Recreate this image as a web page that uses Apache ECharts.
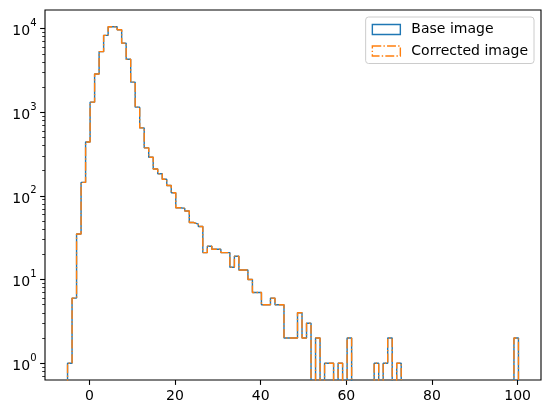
<!DOCTYPE html>
<html>
<head>
<meta charset="utf-8">
<script src="https://cdn.jsdelivr.net/npm/echarts@6/dist/echarts.min.js"></script>
<style>
  html, body { margin: 0; padding: 0; background: #fff; }
  #main { width: 550px; height: 413px; }
</style>
</head>
<body>
<div id="main"></div>
<script>
// histogram: 100 equal bins
var binStart = -5.1
var binWidth = 1.053

// counts per bin
var baseCounts = [
  1, 6, 35, 145, 440, 1320, 2860, 5300, 8300, 10500,
  10500, 9700, 6700, 4300, 2290, 1150, 650, 375, 290, 210,
  184, 158, 133, 109, 72, 71, 66, 48, 46, 43,
  21, 25, 23, 23, 21, 21, 14, 19, 13, 13,
  10, 7, 7, 5, 5, 6, 5, 5, 2, 2,
  2, 4, 2, 3, 0, 2, 0, 1, 1, 0,
  1, 0, 2, 0, 0, 0, 0, 0, 1, 0,
  1, 2, 0, 1, 0, 0, 0, 0, 0, 0,
  0, 0, 0, 0, 0, 0, 0, 0, 0, 0,
  0, 0, 0, 0, 0, 0, 0, 0, 0, 2
]
// the corrected histogram lies exactly on top of the base one
var correctedCounts = baseCounts.slice()

var xTicks = [0, 20, 40, 60, 80, 100]
var yTicks = [1, 10, 100, 1000, 10000]
var yMinorTicks = [0.7, 0.8, 0.9]
for (var d = 1; d <= 1000; d *= 10) {
  for (var k = 2; k <= 9; k++) yMinorTicks.push(k * d)
}

var font = 'DejaVu Sans'
var dashDot = [8.9, 2.2, 1.4, 2.2]

// outline of a step histogram (zero bins drop below the axis and get clipped)
function stepLine(counts) {
  var floor = 0.1
  var pts = [[binStart, floor]]
  for (var i = 0; i < counts.length; i++) {
    var y = counts[i] > 0 ? counts[i] : floor
    pts.push([binStart + i * binWidth, y])
    pts.push([binStart + (i + 1) * binWidth, y])
  }
  pts.push([binStart + counts.length * binWidth, floor])
  return pts
}

// matplotlib style 5% margins
var xEnd = binStart + baseCounts.length * binWidth
var xPad = (xEnd - binStart) * 0.05
var logMax = Math.log10(Math.max.apply(null, baseCounts))
var yMin = Math.pow(10, -0.05 * logMax)
var yMax = Math.pow(10, logMax * 1.05)

var gridLeft = 45, gridRight = 9
var gridWidth = 550 - gridLeft - gridRight

var myChart = echarts.init(document.getElementById('main'))

var option = {
  animation: false,
  grid: {
    left: gridLeft, right: gridRight, top: 10, bottom: 33,
    show: true, borderColor: '#000', borderWidth: 1.1
  },
  legend: {
    orient: 'vertical',
    right: 16, top: 17,
    itemWidth: 28, itemHeight: 10, itemGap: 7.5,
    padding: [5.5, 6, 5.5, 6],
    backgroundColor: 'rgba(255,255,255,0.8)',
    borderColor: '#cccccc', borderWidth: 1, borderRadius: 3,
    textStyle: { fontSize: 14, color: '#000', fontFamily: font, padding: [0, 0, 0, 6] },
    data: [
      { name: 'Base image', icon: 'rect',
        itemStyle: { color: 'transparent', borderColor: '#1f77b4', borderWidth: 1.4 } },
      { name: 'Corrected image', icon: 'rect',
        itemStyle: { color: 'transparent', borderColor: '#ff7f0e', borderWidth: 1.4, borderType: dashDot } }
    ]
  },
  xAxis: {
    type: 'value',
    min: binStart - xPad,
    max: xEnd + xPad,
    axisLine: { show: false, onZero: false },
    splitLine: { show: false },
    axisTick: { length: 4.9, lineStyle: { color: '#000', width: 1.1 }, customValues: xTicks },
    axisLabel: { customValues: xTicks, color: '#000', fontSize: 14, fontFamily: font, margin: 9 }
  },
  yAxis: [
    {
      type: 'log', logBase: 10, min: yMin, max: yMax, position: 'left',
      axisLine: { show: false, onZero: false },
      splitLine: { show: false },
      axisTick: { length: 4.9, lineStyle: { color: '#000', width: 1.1 }, customValues: yTicks },
      axisLabel: {
        customValues: yTicks, color: '#000', fontFamily: font, margin: 8.5,
        formatter: function (v) {
          return '{b|10}{s|' + Math.round(Math.log10(v)) + '}'
        },
        rich: {
          b: { fontSize: 14, fontFamily: font, color: '#000', lineHeight: 20, verticalAlign: 'bottom' },
          s: { fontSize: 10, fontFamily: font, color: '#000', lineHeight: 20, verticalAlign: 'top' }
        }
      }
    },
    {
      // minor ticks: a right-side axis moved over to the left spine, ticks pointing outward
      type: 'log', logBase: 10, min: yMin, max: yMax, position: 'right',
      offset: -gridWidth,
      axisLine: { show: false, onZero: false },
      splitLine: { show: false },
      axisLabel: { show: false },
      axisTick: { inside: true, length: 2.8, lineStyle: { color: '#000', width: 0.8 }, customValues: yMinorTicks }
    }
  ],
  series: [
    {
      name: 'Base image',
      type: 'line',
      yAxisIndex: 0,
      symbol: 'none',
      clip: true,
      lineStyle: { color: '#1f77b4', width: 1.4 },
      itemStyle: { color: '#1f77b4' },
      data: stepLine(baseCounts)
    },
    {
      name: 'Corrected image',
      type: 'line',
      yAxisIndex: 0,
      symbol: 'none',
      clip: true,
      lineStyle: { color: '#ff7f0e', width: 1.4, type: dashDot },
      itemStyle: { color: '#ff7f0e' },
      data: stepLine(correctedCounts)
    }
  ]
}

myChart.setOption(option)
</script>
</body>
</html>
